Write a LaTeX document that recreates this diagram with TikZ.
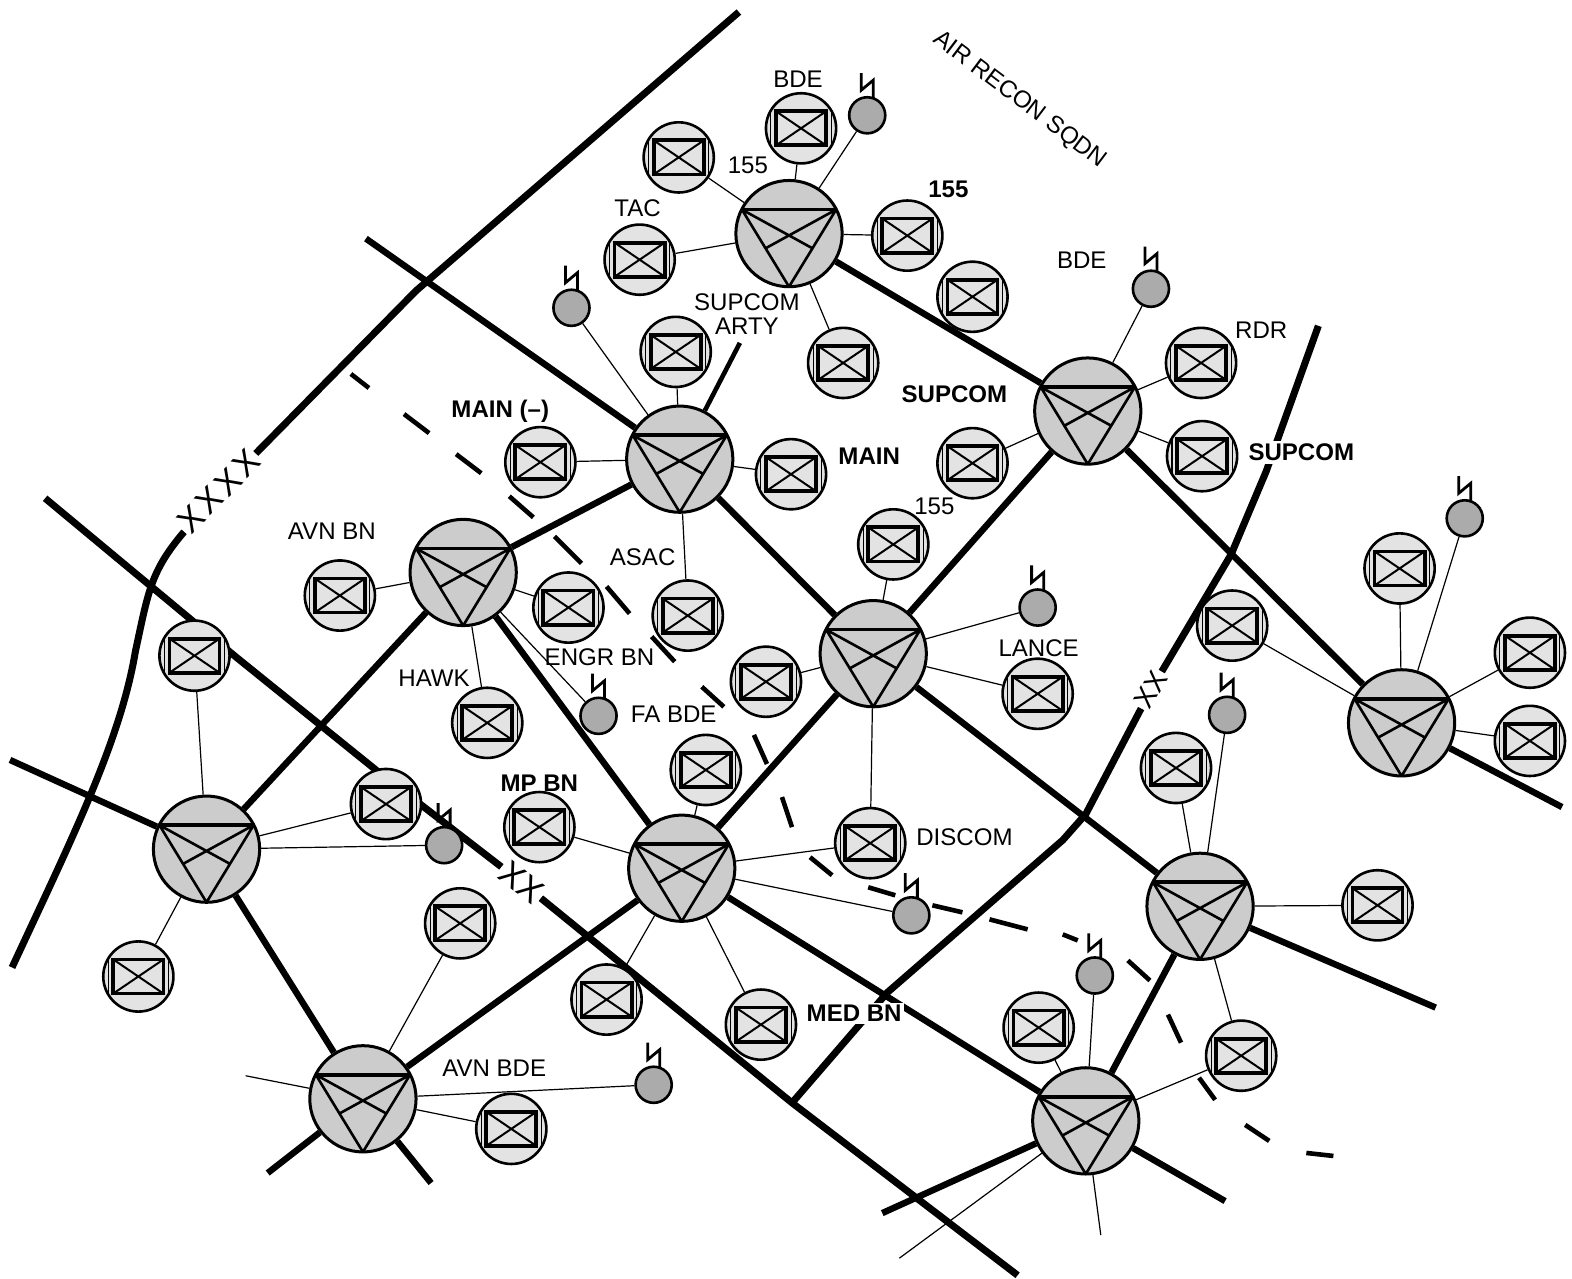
\documentclass[tikz,border=0pt]{standalone}
\usepackage{fontspec}
\setmainfont{Liberation Sans}
\usetikzlibrary{backgrounds}

\begin{document}
\begin{tikzpicture}[
  x=0.5pt, y=-0.5pt,
  BN/.style={circle, draw, line width=1.5pt, fill=black!20, minimum size=53pt, inner sep=0pt,
             path picture={\draw[shift={(path picture bounding box.center)}, line width=1.3pt]
               (-47,-24) -- (0,53) -- (47,-24)
               (-47,-24) -- (24,15) (47,-24) -- (-24,15);
               \draw[shift={(path picture bounding box.center)}, line width=1.8pt]
               (-47,-24) -- (47,-24);}},
  SN/.style={circle, draw, line width=1.3pt, fill=black!11, minimum size=35pt, inner sep=0pt,
             path picture={\draw[shift={(path picture bounding box.center)}, line width=1.9pt]
               (-25,-17) rectangle (25,17);
               \draw[shift={(path picture bounding box.center)}, line width=1pt]
               (-25,-17) -- (25,17) (-25,17) -- (25,-17);
               \draw[shift={(path picture bounding box.center)}, line width=0.5pt]
               (-30,-17) -- (-30,17) (30,-17) -- (30,17);}},
  TN/.style={circle, draw, line width=1.3pt, fill=black!33, minimum size=18pt, inner sep=0pt},
  RD/.style={line width=3.2pt},
  BD/.style={line width=3.5pt},
  PL/.style={line width=2.3pt},
  TL/.style={line width=0.6pt},
  BL/.style={line width=1.4pt},
  LB/.style={inner sep=0pt, font=\fontsize{12}{12}\selectfont},
  LBB/.style={inner sep=0pt, font=\fontsize{12}{12}\selectfont\bfseries},
  XL/.style={inner sep=1pt, fill=white, font=\fontsize{17}{17}\selectfont}
]
  % command posts
  \foreach \n/\x/\y in {a/787/233, b/1085/410, c/678/458, d/462/571, e/871/652, f/206/847,
                        g/680/866, h/1197/904, i/1398/721, j/362/1096, k/1083/1118}
    \node[BN] (\n) at (\x,\y) {};

  % units
  \foreach \n/\x/\y in {a1/799/128, a2/677/157, a3/638/259, a4/905/235, a5/841/362, ab/970/296,
                        b1/1198/362, b2/1199/455, b3/970/462,
                        c1/674/351, c2/539/461, c3/789/473, c4/686/614,
                        d1/339/594, d2/567/606, d3/486/721,
                        e1/891/543, e2/1035/692, e3/764/680, e4/868/841,
                        f1/194/654, f2/385/802, f3/138/974,
                        g1/538/825, g2/704/768, g3/605/997, g4/759/1022,
                        h1/1173/766, h2/1374/903, h3/1238/1053,
                        i1/1396/567, i2/1229/624, i3/1526/651, i4/1526/739,
                        j1/459/921, j2/510/1126, k1/1036/1025}
    \node[SN] (\n) at (\x,\y) {};

  % radio sites
  \foreach \n/\x/\y in {ra/865/115, rb/1148/288, rc/570/307, rd/597/714, re/1035/606, rf/443/843,
                        rg/909/913, rh/1224/713, ri/1461/517, rj/652/1082, rk/1092/973}
    \node[TN] (\n) at (\x,\y) {};
  \foreach \r in {ra,rb,rc,rd,re,rf,rg,rh,ri,rj,rk}
    \draw[BL] ([shift={(-6,-42)}]\r.center) -- ++(0,17) -- ++(12,-10) -- ++(0,18);

  % labels
  \foreach \n/\x/\y/\t in {lbde/796/79/BDE, lfa/746/165/155, ltac/636/208/TAC, lart/745/325/ARTY,
                           lsup/745/301/SUPCOM, lbdf/1079/260/BDE, lrdr/1258/329/RDR, lfc/932/505/155,
                           lavn/331/530/AVN BN, lasc/641/556/ASAC, llan/1036/647/LANCE,
                           leng/598/656/ENGR BN, lhaw/433/676/HAWK, lfab/672/712/FA BDE,
                           ldis/962/835/DISCOM, lavb/493/1065/AVN BDE}
    \node[LB] (\n) at (\x,\y) {\t};
  \foreach \n/\x/\y/\t in {lfb/946/189/155, lspa/952/393/SUPCOM,
                           lmnb/867/455/MAIN, lmnc/499/410/MAIN (--), lmp/538/781/MP BN}
    \node[LBB] (\n) at (\x,\y) {\t};
  \node[LBB, fill=white, inner sep=1.5pt] (lspb) at (1298,451) {SUPCOM};
  \node[LBB, fill=white, inner sep=1pt] (lmed) at (852,1011) {MED BN};
  \node[LB, rotate=-37] (lair) at (1017,100) {AIR RECON SQDN};
  \node[XL, rotate=45] (xa) at (218,490) {\addfontfeature{LetterSpace=10}XXXX};
  \node[XL, rotate=-38] (xb) at (520,880) {XX};
  \node[XL, rotate=60, font=\fontsize{14}{14}\selectfont] (xc) at (1148,688) {XX};

  % free ends
  \coordinate (ca) at (737,12);
  \coordinate (cb) at (12,965);
  \coordinate (cc) at (45,497);
  \coordinate (cd) at (790,1100);
  \coordinate (ce) at (1015,1272);
  \coordinate (cf) at (1315,325);
  \coordinate (cg) at (885,990);
  \coordinate (s1) at (738,342);
  \coordinate (s2) at (365,238);
  \coordinate (s3) at (10,758);
  \coordinate (s4) at (1558,805);
  \coordinate (s5) at (1432,1005);
  \coordinate (s6) at (1222,1198);
  \coordinate (s7) at (880,1210);
  \coordinate (s8) at (267,1170);
  \coordinate (s9) at (430,1180);
  \coordinate (t1) at (245,1073);
  \coordinate (t2) at (1098,1232);
  \coordinate (t3) at (897,1255);

  \begin{scope}[on background layer]
    \draw[BD, line join=round] (ca) -- (415,290) -- (xa);
    \draw[BD] (xa) .. controls (150,570) and (148,590) .. (135,650)
              .. controls (120,740) and (70,840) .. (cb);
    \draw[BD] (cc) -- (235,655) -- (375,768) -- (xb);
    \draw[BD, line join=round] (xb) -- (cd) -- (ce);
    \draw[BD, line join=round] (cf) -- (1263,470) -- (1228,553) -- (xc);
    \draw[BD, line join=round] (xc) -- (1083,812) -- (1060,838) -- (cg) -- (cd);

    \foreach \a/\b in {a/b,b/e,b/i,c/d,c/e,d/f,d/g,e/g,e/h,f/j,g/j,g/k,h/k,
                       c/s2,f/s3,i/s4,h/s5,k/s6,k/s7,j/s8,j/s9}
      \draw[RD] (\a) -- (\b);
    \draw[PL] (c) -- (s1);

    \foreach \a/\b in {a/a1,a/a2,a/a3,a/a4,a/a5,a/ra, b/b1,b/b2,b/b3,b/rb,
                       c/c1,c/c2,c/c3,c/c4,c/rc, d/d1,d/d2,d/d3,d/rd,
                       e/e1,e/e2,e/e3,e/e4,e/re, f/f1,f/f2,f/f3,f/rf,
                       g/g1,g/g2,g/e4,g/g3,g/g4,g/rg, h/h1,h/h2,h/h3,h/rh,
                       i/i1,i/i2,i/i3,i/i4,i/ri, j/j1,j/j2,j/rj,j/t1,
                       k/k1,k/h3,k/rk,k/t2,k/t3}
      \draw[TL] (\a) -- (\b);

    % phase line
    \foreach \xa/\ya/\xb/\yb in {350/373/368/387, 403/413/428/432, 455/453/480/472, 508/495/532/516,
                                 553/535/580/562, 605/585/628/612, 650/635/673/660, 700/685/722/705,
                                 752/733/765/762, 780/795/790/825, 808/855/830/873, 866/885/893/893,
                                 930/903/960/910, 987/917/1025/927, 1060/932/1075/938,
                                 1125/958/1147/978, 1165/1012/1178/1040, 1196/1075/1212/1097,
                                 1242/1122/1266/1138, 1303/1150/1330/1153}
      \draw[PL] (\xa,\ya) -- (\xb,\yb);
  \end{scope}

  \useasboundingbox (0,0) rectangle (1568,1274);
\end{tikzpicture}
\end{document}
